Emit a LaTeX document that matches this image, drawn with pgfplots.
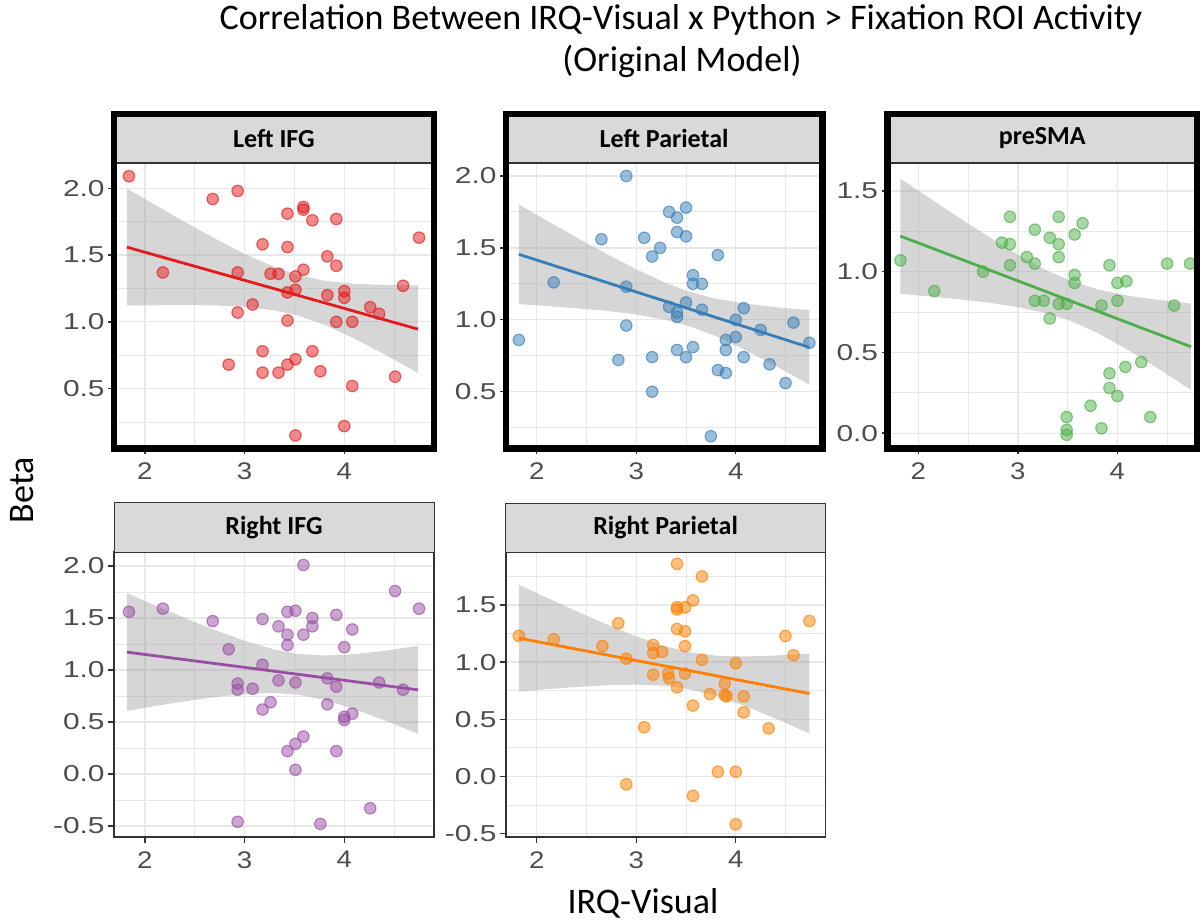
\documentclass[border=0pt]{standalone}
\usepackage{pgfplots}
\pgfplotsset{compat=1.18}
\usepackage{graphicx}
\usepackage{fontspec}
\setmainfont{Carlito}
\newfontfamily\arialf{Liberation Sans}

\definecolor{cred}{HTML}{E41A1C}
\definecolor{cblue}{HTML}{377EB8}
\definecolor{cgreen}{HTML}{4DAF4A}
\definecolor{cpurple}{HTML}{984EA3}
\definecolor{corange}{HTML}{FF7F00}
\definecolor{gridc}{HTML}{E8E8E8}
\definecolor{stripc}{HTML}{D9D9D9}
\definecolor{edgec}{HTML}{333333}
\definecolor{labc}{HTML}{4D4D4D}
\definecolor{bandc}{HTML}{999999}

% tick labels are set slightly wide
\newcommand\sx[1]{\scalebox{1.15}[1]{#1}}
\newcommand\sy[1]{\scalebox{1.3}[1]{#1}}

\pgfplotsset{
  panel/.style={
    scale only axis, anchor=south west,
    xmin=1.69,
    xtick={2,3,4}, minor xtick={2.5,3.5,4.5},
    xticklabels={\sx{2},\sx{3},\sx{4}},
    grid=both,
    major grid style={line width=0.65pt, draw=gridc},
    minor grid style={line width=0.4pt, draw=gridc},
    axis line style={draw=edgec, line width=0.7pt},
    tick style={draw=edgec, line width=0.7pt},
    tick align=outside, major tick length=3pt, minor tick length=0pt,
    xtick pos=bottom, ytick pos=left,
    yticklabel style={font=\arialf\fontsize{11.5}{12}\selectfont, text=labc, inner sep=1.5pt},
    xticklabel style={font=\arialf\fontsize{12}{13}\selectfont, text=labc, inner sep=4pt},
  },
  pts/.style={only marks, mark=*, mark size=2.85pt,
    mark options={fill=#1, fill opacity=0.5, draw=#1, draw opacity=0.65, line width=0.6pt}},
  band/.style={fill=bandc, fill opacity=0.4, draw=none, no markers},
  fit/.style={draw=#1, line width=1.4pt, no markers},
}

\newcommand\strip[2]{%
  \draw[fill=stripc, draw=edgec, line width=0.5pt]
    (#1.north west) rectangle ([yshift=24.5pt]#1.north east);
  \node[font=\bfseries\fontsize{13}{15}\selectfont, text=black]
    at ([yshift=12.25pt]$(#1.north west)!0.5!(#1.north east)$) {#2};
}
\newcommand\frameit[1]{%
  \draw[line width=3.3pt, black] (#1.south west) rectangle ([yshift=24.5pt]#1.north east);
}

\usetikzlibrary{calc}

\begin{document}
\begin{tikzpicture}
\useasboundingbox (0,0) rectangle (601pt,460.5pt);

% ---------------- Left IFG ----------------
\begin{axis}[panel, name=p1, at={(57pt,236.25pt)}, width=160pt, height=142.75pt,
  xmax=4.9, ymin=0.052, ymax=2.189,
  ytick={0.5,1,1.5,2}, minor ytick={0.25,0.75,1.25,1.75},
  yticklabels={\sy{0.5},\sy{1.0},\sy{1.5},\sy{2.0}}]
\addplot[pts=cred] table {
1.84 2.09
2.18 1.37
2.68 1.92
2.93 1.98
2.84 0.68
2.93 1.37
2.93 1.07
3.08 1.13
3.18 1.58
3.18 0.78
3.18 0.62
3.26 1.36
3.34 1.36
3.34 0.62
3.43 1.81
3.43 1.56
3.43 1.22
3.43 1.01
3.43 0.68
3.51 1.34
3.51 1.24
3.51 0.72
3.51 0.15
3.59 1.86
3.59 1.84
3.59 1.39
3.68 1.76
3.68 0.78
3.76 0.63
3.83 1.49
3.83 1.20
3.92 1.77
3.92 1.42
3.92 1.00
4.00 1.23
4.00 1.18
4.00 0.22
4.08 1.00
4.08 0.52
4.26 1.11
4.35 1.06
4.51 0.59
4.59 1.27
4.75 1.63
};
\addplot[band] coordinates {
(1.82,1.997) (2.1,1.876) (2.4,1.748) (2.7,1.625) (3.0,1.509) (3.3,1.410)
(3.53,1.352) (3.8,1.308) (4.1,1.285) (4.4,1.276) (4.74,1.273)
(4.74,0.617) (4.4,0.758) (4.1,0.875) (3.8,0.978) (3.53,1.048) (3.3,1.086)
(3.0,1.113) (2.7,1.123) (2.4,1.126) (2.1,1.124) (1.82,1.121)};
\addplot[fit=cred] coordinates {(1.82,1.559) (4.74,0.945)};
\end{axis}
\strip{p1}{Left IFG}
\frameit{p1}

% ---------------- Left Parietal ----------------
\begin{axis}[panel, name=p2, at={(252.95pt,236.25pt)}, width=158.2pt, height=142.75pt,
  xmax=4.87, ymin=0.105, ymax=2.09,
  ytick={0.5,1,1.5,2}, minor ytick={0.25,0.75,1.25,1.75},
  yticklabels={\sy{0.5},\sy{1.0},\sy{1.5},\sy{2.0}}]
\addplot[pts=cblue] table {
1.82 0.86
2.17 1.26
2.65 1.56
2.82 0.72
2.90 2.00
2.90 1.23
2.90 0.96
3.08 1.57
3.16 1.44
3.24 1.50
3.16 0.74
3.16 0.50
3.33 1.75
3.41 1.71
3.50 1.78
3.41 1.61
3.50 1.58
3.33 1.09
3.41 1.05
3.41 1.02
3.50 1.12
3.41 0.79
3.50 0.74
3.57 0.81
3.57 1.31
3.57 1.25
3.66 1.25
3.66 1.07
3.82 1.45
3.82 0.65
3.90 0.86
3.90 0.79
3.90 0.63
3.75 0.19
4.00 1.00
4.00 0.88
4.08 1.08
4.08 0.74
4.25 0.93
4.34 0.69
4.50 0.56
4.58 0.98
4.74 0.84
};
\addplot[band] coordinates {
(1.82,1.801) (2.1,1.690) (2.4,1.572) (2.7,1.458) (3.0,1.351) (3.3,1.255)
(3.53,1.196) (3.8,1.146) (4.1,1.112) (4.4,1.087) (4.74,1.067)
(4.74,0.549) (4.4,0.679) (4.1,0.788) (3.8,0.886) (3.53,0.956) (3.3,0.999)
(3.0,1.037) (2.7,1.062) (2.4,1.080) (2.1,1.096) (1.82,1.109)};
\addplot[fit=cblue] coordinates {(1.82,1.455) (4.74,0.808)};
\end{axis}
\strip{p2}{Left Parietal}
\frameit{p2}

% ---------------- preSMA ----------------
\begin{axis}[panel, name=p3, at={(443.75pt,236.25pt)}, width=154.75pt, height=142.75pt,
  xmax=4.80, ymin=-0.095, ymax=1.673,
  ytick={0,0.5,1,1.5}, minor ytick={0.25,0.75,1.25},
  yticklabels={\sy{0.0},\sy{0.5},\sy{1.0},\sy{1.5}}]
\addplot[pts=cgreen] table {
1.82 1.07
2.16 0.88
2.65 1.00
2.84 1.18
2.92 1.34
2.92 1.17
2.92 1.04
3.09 1.09
3.17 1.26
3.17 1.05
3.17 0.82
3.26 0.82
3.32 1.21
3.32 0.71
3.41 1.34
3.41 1.17
3.41 1.09
3.41 0.80
3.49 0.80
3.49 0.10
3.49 0.02
3.49 -0.01
3.57 1.23
3.65 1.30
3.57 0.98
3.57 0.93
3.73 0.17
3.84 0.79
3.84 0.03
3.92 1.04
3.92 0.37
3.92 0.28
4.00 0.82
4.00 0.23
4.00 0.93
4.09 0.94
4.08 0.41
4.24 0.44
4.33 0.10
4.50 1.05
4.57 0.79
4.73 1.05
};
\addplot[band] coordinates {
(1.82,1.577) (2.1,1.461) (2.4,1.338) (2.7,1.219) (3.0,1.105) (3.3,1.005)
(3.53,0.943) (3.8,0.891) (4.1,0.852) (4.4,0.826) (4.74,0.803)
(4.74,0.267) (4.4,0.404) (4.1,0.518) (3.8,0.621) (3.53,0.695) (3.3,0.741)
(3.0,0.781) (2.7,0.809) (2.4,0.830) (2.1,0.847) (1.82,0.863)};
\addplot[fit=cgreen] coordinates {(1.82,1.220) (4.74,0.535)};
\end{axis}
\strip{p3}{preSMA}
\frameit{p3}

% ---------------- Right IFG ----------------
\begin{axis}[panel, name=p4, at={(57pt,42pt)}, width=160pt, height=142.5pt,
  xmax=4.9, ymin=-0.606, ymax=2.135,
  ytick={-0.5,0,0.5,1,1.5,2}, minor ytick={-0.25,0.25,0.75,1.25,1.75},
  yticklabels={\sy{-0.5},\sy{0.0},\sy{0.5},\sy{1.0},\sy{1.5},\sy{2.0}}]
\addplot[pts=cpurple] table {
1.84 1.56
2.18 1.59
2.68 1.47
2.84 1.20
2.93 0.87
2.93 0.81
2.93 -0.46
3.08 0.82
3.18 1.49
3.18 1.05
3.18 0.62
3.26 0.69
3.34 1.42
3.34 0.90
3.43 1.56
3.43 1.34
3.43 1.24
3.43 0.22
3.51 1.57
3.51 0.88
3.51 0.29
3.51 0.04
3.59 2.01
3.59 1.34
3.59 0.36
3.68 1.50
3.68 1.42
3.76 -0.48
3.83 0.92
3.83 0.67
3.92 1.53
3.92 0.84
3.92 0.22
4.00 1.22
4.00 0.55
4.00 0.52
4.08 1.39
4.08 0.58
4.26 -0.33
4.35 0.88
4.51 1.76
4.59 0.81
4.75 1.59
};
\addplot[band] coordinates {
(1.82,1.737) (2.1,1.623) (2.4,1.501) (2.7,1.386) (3.0,1.281) (3.3,1.197)
(3.53,1.155) (3.8,1.139) (4.1,1.152) (4.4,1.184) (4.74,1.232)
(4.74,0.386) (4.4,0.518) (4.1,0.624) (3.8,0.713) (3.53,0.763) (3.3,0.779)
(3.0,0.769) (2.7,0.740) (2.4,0.699) (2.1,0.653) (1.82,0.607)};
\addplot[fit=cpurple] coordinates {(1.82,1.172) (4.74,0.809)};
\end{axis}
\strip{p4}{Right IFG}

% ---------------- Right Parietal ----------------
\begin{axis}[panel, name=p5, at={(252.95pt,42pt)}, width=159.7pt, height=142.5pt,
  xmax=4.9, ymin=-0.531, ymax=1.964,
  ytick={-0.5,0,0.5,1,1.5}, minor ytick={-0.25,0.25,0.75,1.25,1.75},
  yticklabels={\sy{-0.5},\sy{0.0},\sy{0.5},\sy{1.0},\sy{1.5}}]
\addplot[pts=corange] table {
1.82 1.23
2.17 1.20
2.66 1.14
2.82 1.34
2.90 1.03
2.90 -0.07
3.08 0.43
3.17 1.15
3.17 1.08
3.17 0.89
3.26 1.09
3.32 0.90
3.33 0.86
3.41 1.86
3.41 1.48
3.41 1.46
3.41 1.29
3.41 0.78
3.49 1.48
3.49 1.27
3.49 1.14
3.49 0.90
3.57 1.54
3.57 0.62
3.57 -0.17
3.66 1.75
3.66 1.02
3.74 0.72
3.82 0.04
3.89 0.81
3.89 0.71
3.91 0.70
4.00 0.99
4.00 0.04
4.00 -0.42
4.08 0.70
4.08 0.56
4.33 0.42
4.50 1.23
4.58 1.06
4.74 1.36
};
\addplot[band] coordinates {
(1.82,1.677) (2.1,1.564) (2.4,1.446) (2.7,1.331) (3.0,1.225) (3.3,1.136)
(3.53,1.088) (3.8,1.057) (4.1,1.050) (4.4,1.058) (4.74,1.075)
(4.74,0.375) (4.4,0.506) (4.1,0.614) (3.8,0.705) (3.53,0.764) (3.3,0.792)
(3.0,0.803) (2.7,0.797) (2.4,0.782) (2.1,0.764) (1.82,0.743)};
\addplot[fit=corange] coordinates {(1.82,1.210) (4.74,0.725)};
\end{axis}
\strip{p5}{Right Parietal}

% ---------------- titles ----------------
\node[anchor=base, font=\fontsize{18}{21.6}\selectfont] at (340.5pt,445.75pt)
  {Correlation Between IRQ-Visual x Python > Fixation ROI Activity};
\node[anchor=base, font=\fontsize{18}{21.6}\selectfont] at (341pt,424.5pt)
  {(Original Model)};
\node[rotate=90, font=\fontsize{18}{21.6}\selectfont] at (11pt,215.5pt) {Beta};
\node[anchor=base, font=\fontsize{18}{21.6}\selectfont] at (321.5pt,4pt) {IRQ-Visual};
\end{tikzpicture}
\end{document}
